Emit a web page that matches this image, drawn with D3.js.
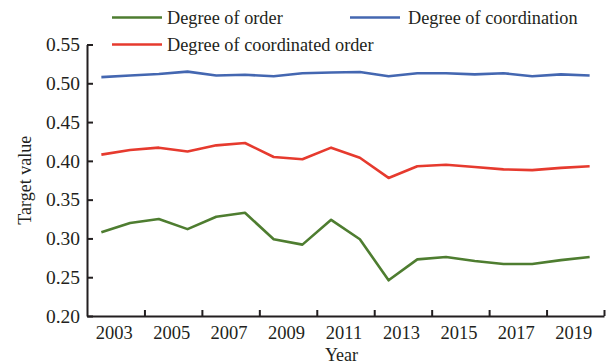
<!DOCTYPE html>
<html>
<head>
<meta charset="utf-8">
<script src="https://cdn.jsdelivr.net/npm/d3@7/dist/d3.min.js"></script>
<style>
  html, body { margin: 0; padding: 0; background: #fff; }
  svg { display: block; }
  text { font-family: "Liberation Serif", "Times New Roman", serif; fill: #231f20; }
</style>
</head>
<body>
<svg id="chart" width="611" height="364"></svg>
<script>
// ---- data ----
const years = [2003, 2004, 2005, 2006, 2007, 2008, 2009, 2010, 2011, 2012,
               2013, 2014, 2015, 2016, 2017, 2018, 2019, 2020];
const tickLabels = ["2003", "2005", "2007", "2009", "2011", "2013", "2015", "2017", "2019"];
const yTicks = [0.20, 0.25, 0.30, 0.35, 0.40, 0.45, 0.50, 0.55];
const degreeOfOrder = [0.308, 0.320, 0.325, 0.312, 0.328, 0.333, 0.299, 0.292, 0.324,
                       0.299, 0.246, 0.273, 0.276, 0.271, 0.267, 0.267, 0.272, 0.276];
const degreeOfCoordination = [0.508, 0.510, 0.512, 0.515, 0.510, 0.511, 0.509, 0.513, 0.514,
                              0.5145, 0.509, 0.513, 0.513, 0.5115, 0.513, 0.509, 0.5115, 0.510];
const degreeOfCoordinatedOrder = [0.408, 0.414, 0.417, 0.412, 0.420, 0.423, 0.405, 0.402, 0.417,
                                  0.404, 0.378, 0.393, 0.395, 0.392, 0.389, 0.388, 0.391, 0.393];
const seriesNames = ["Degree of order", "Degree of coordination", "Degree of coordinated order"];
const seriesColors = ["#4e7d30", "#4467b1", "#e63a2e"];

(function () {
// ---- layout ----
const svg = d3.select("#chart");
const mLeft = 87, mRight = 604, mTop = 44.5, mBottom = 316;

const x = d3.scaleBand().domain(years).range([mLeft, mRight]).padding(0);
const xb = d3.scaleLinear().domain([0, years.length]).range([mLeft, mRight]);
const y = d3.scaleLinear().domain([0.20, 0.55]).range([mBottom, mTop]);

// x axis (ticks between category pairs, pointing inward)
const xAxis = d3.axisBottom(xb)
  .tickValues(d3.range(2, years.length + 1, 2))
  .tickSizeInner(-6).tickSizeOuter(0)
  .tickFormat("");
const gx = svg.append("g").attr("transform", `translate(0,${mBottom})`).call(xAxis);
gx.select(".domain").attr("stroke", "#231f20").attr("stroke-width", 2);
gx.selectAll(".tick line").attr("stroke", "#231f20").attr("stroke-width", 2);

// x tick labels centered on each pair of categories
svg.append("g").selectAll("text").data(tickLabels).join("text")
  .attr("x", (d, i) => xb(i * 2 + 1) - 1.5)
  .attr("y", 339)
  .attr("text-anchor", "middle")
  .attr("font-size", 18.5)
  .text(d => d);

// y axis
const yAxis = d3.axisLeft(y)
  .tickValues(yTicks)
  .tickSizeInner(-6).tickSizeOuter(0)
  .tickPadding(7)
  .tickFormat(d3.format(".2f"));
const gy = svg.append("g").attr("transform", `translate(${mLeft},0)`).call(yAxis);
gy.select(".domain").attr("stroke", "#231f20").attr("stroke-width", 2);
gy.selectAll(".tick line").attr("stroke", "#231f20").attr("stroke-width", 2);
gy.selectAll(".tick text").attr("font-size", 19.5).attr("font-family", "Liberation Serif").attr("fill", "#231f20");

// axis titles
svg.append("text").attr("x", (mLeft + mRight) / 2 - 4).attr("y", 360.5)
  .attr("text-anchor", "middle").attr("font-size", 18).text("Year");
svg.append("text")
  .attr("transform", `translate(31,${(mTop + mBottom) / 2}) rotate(-90)`)
  .attr("text-anchor", "middle").attr("font-size", 18).text("Target value");

// lines
const line = d3.line().x((d, i) => x(years[i]) + x.bandwidth() / 2).y(d => y(d));
const allSeries = [degreeOfOrder, degreeOfCoordination, degreeOfCoordinatedOrder];
svg.append("g").selectAll("path").data(allSeries).join("path")
  .attr("d", d => line(d))
  .attr("fill", "none")
  .attr("stroke", (d, i) => seriesColors[i])
  .attr("stroke-width", 2.6)
  .attr("stroke-linejoin", "round");

// legend
const legendPos = [[112, 17.5], [350, 17.5], [112, 44.5]];
const lg = svg.append("g").selectAll("g").data(seriesNames).join("g")
  .attr("transform", (d, i) => `translate(${legendPos[i][0]},${legendPos[i][1]})`);
lg.append("line").attr("x1", 0).attr("x2", 50).attr("y1", 0).attr("y2", 0)
  .attr("stroke", (d, i) => seriesColors[i]).attr("stroke-width", 2.6);
lg.append("text").attr("x", (d, i) => i === 1 ? 58 : 55).attr("y", 6)
  .attr("font-size", 18.3).text(d => d);
})();
</script>
</body>
</html>
